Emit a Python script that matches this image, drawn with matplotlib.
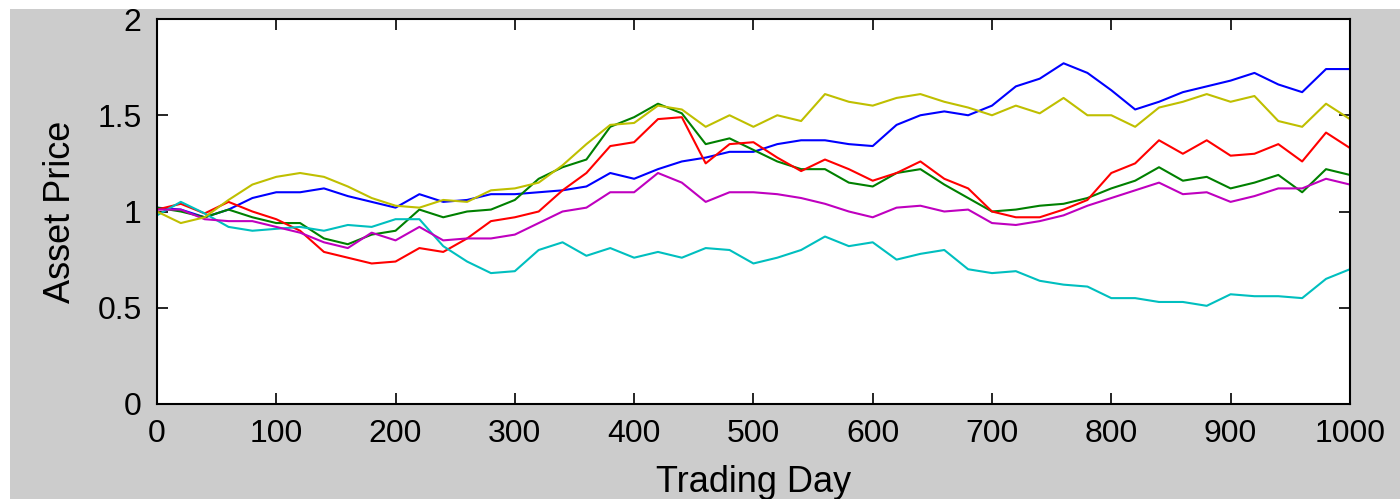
import matplotlib
matplotlib.use("Agg")
import matplotlib.pyplot as plt
from matplotlib.patches import Rectangle

days = list(range(0, 1001, 20))

blue = [1.02, 1.01, 0.97, 1.01, 1.07, 1.10, 1.10, 1.12, 1.08, 1.05,
        1.02, 1.09, 1.05, 1.06, 1.09, 1.09, 1.10, 1.11, 1.13, 1.20,
        1.17, 1.22, 1.26, 1.28, 1.31, 1.31, 1.35, 1.37, 1.37, 1.35,
        1.34, 1.45, 1.50, 1.52, 1.50, 1.55, 1.65, 1.69, 1.77, 1.72,
        1.63, 1.53, 1.57, 1.62, 1.65, 1.68, 1.72, 1.66, 1.62, 1.74, 1.74]

green = [1.02, 1.00, 0.97, 1.01, 0.97, 0.94, 0.94, 0.86, 0.83, 0.88,
         0.90, 1.01, 0.97, 1.00, 1.01, 1.06, 1.17, 1.23, 1.27, 1.44,
         1.49, 1.56, 1.51, 1.35, 1.38, 1.32, 1.26, 1.22, 1.22, 1.15,
         1.13, 1.20, 1.22, 1.14, 1.07, 1.00, 1.01, 1.03, 1.04, 1.07,
         1.12, 1.16, 1.23, 1.16, 1.18, 1.12, 1.15, 1.19, 1.10, 1.22, 1.19]

red = [1.01, 1.04, 0.99, 1.05, 1.00, 0.96, 0.90, 0.79, 0.76, 0.73,
       0.74, 0.81, 0.79, 0.86, 0.95, 0.97, 1.00, 1.11, 1.20, 1.34,
       1.36, 1.48, 1.49, 1.25, 1.35, 1.36, 1.28, 1.21, 1.27, 1.22,
       1.16, 1.20, 1.26, 1.17, 1.12, 1.00, 0.97, 0.97, 1.01, 1.06,
       1.20, 1.25, 1.37, 1.30, 1.37, 1.29, 1.30, 1.35, 1.26, 1.41, 1.33]

cyan = [0.98, 1.05, 0.99, 0.92, 0.90, 0.91, 0.92, 0.90, 0.93, 0.92,
        0.96, 0.96, 0.82, 0.74, 0.68, 0.69, 0.80, 0.84, 0.77, 0.81,
        0.76, 0.79, 0.76, 0.81, 0.80, 0.73, 0.76, 0.80, 0.87, 0.82,
        0.84, 0.75, 0.78, 0.80, 0.70, 0.68, 0.69, 0.64, 0.62, 0.61,
        0.55, 0.55, 0.53, 0.53, 0.51, 0.57, 0.56, 0.56, 0.55, 0.65, 0.70]

magenta = [1.01, 1.01, 0.96, 0.95, 0.95, 0.92, 0.89, 0.84, 0.81, 0.89,
           0.85, 0.92, 0.85, 0.86, 0.86, 0.88, 0.94, 1.00, 1.02, 1.10,
           1.10, 1.20, 1.15, 1.05, 1.10, 1.10, 1.09, 1.07, 1.04, 1.00,
           0.97, 1.02, 1.03, 1.00, 1.01, 0.94, 0.93, 0.95, 0.98, 1.03,
           1.07, 1.11, 1.15, 1.09, 1.10, 1.05, 1.08, 1.12, 1.12, 1.17, 1.14]

yellow = [1.00, 0.94, 0.97, 1.06, 1.14, 1.18, 1.20, 1.18, 1.13, 1.07,
          1.03, 1.02, 1.06, 1.05, 1.11, 1.12, 1.15, 1.24, 1.35, 1.45,
          1.46, 1.55, 1.53, 1.44, 1.50, 1.44, 1.50, 1.47, 1.61, 1.57,
          1.55, 1.59, 1.61, 1.57, 1.54, 1.50, 1.55, 1.51, 1.59, 1.50,
          1.50, 1.44, 1.54, 1.57, 1.61, 1.57, 1.60, 1.47, 1.44, 1.56, 1.48]

series = [blue, green, red, cyan, magenta, yellow]
colors = ["#0000ff", "#008000", "#ff0000", "#00bfbf", "#bf00bf", "#bfbf00"]

plt.rcParams['font.family'] = ['Liberation Sans', 'DejaVu Sans']

fig = plt.figure(figsize=(14, 4.99), dpi=100, facecolor="#cccccc")
ax = fig.add_axes([0.1121, 0.1904, 0.8521, 0.7715])

for vals, c in zip(series, colors):
    ax.plot(days, vals, color=c, lw=1.5)

ax.set_xlim(0, 1000)
ax.set_ylim(0, 2)
ax.set_xticks(range(0, 1001, 100))
ax.set_yticks([0, 0.5, 1, 1.5, 2])
ax.set_yticklabels(["0", "0.5", "1", "1.5", "2"])
ax.tick_params(direction="in", top=True, right=True, length=8, width=1.2,
               labelsize=23, pad=11)
for s in ax.spines.values():
    s.set_linewidth(1.5)

ax.set_xlabel("Trading Day", fontsize=26, labelpad=11)
ax.set_ylabel("Asset Price", fontsize=26, labelpad=14)

# white strips at top and left of the screenshot
fig.add_artist(Rectangle((0, 1 - 9 / 499), 1, 9 / 499, transform=fig.transFigure,
                         facecolor="white", edgecolor="none", zorder=10))
fig.add_artist(Rectangle((0, 0), 10 / 1400, 1, transform=fig.transFigure,
                         facecolor="white", edgecolor="none", zorder=10))

fig.savefig("out.png", dpi=100, facecolor=fig.get_facecolor())
